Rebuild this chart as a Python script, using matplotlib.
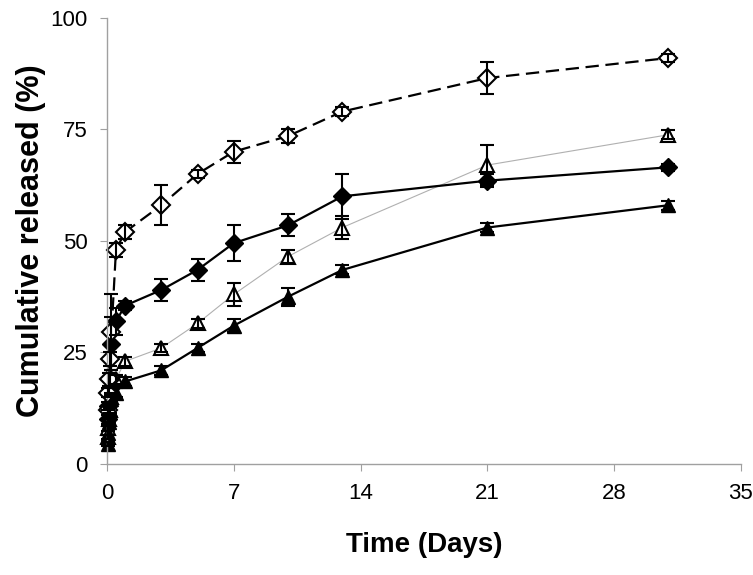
import matplotlib
matplotlib.use('Agg')
import matplotlib.pyplot as plt

plt.rcParams['font.family'] = ['Liberation Sans', 'DejaVu Sans']

# sampling times (days)
days = [0.042, 0.083, 0.125, 0.167, 0.25, 0.5, 1, 3, 5, 7, 10, 13, 21, 31]

# open diamond, dashed
open_dia = [12, 16, 19, 23.5, 29.5, 48, 52, 58, 65, 70, 73.5, 79, 86.5, 91]
open_dia_err = [1, 1, 1.5, 1.5, 8.5, 1.5, 1.5, 4.5, 1, 2.5, 1.5, 1, 3.5, 1]

# filled diamond, solid
fill_dia = [10, 13, 16, 19, 27, 32, 35.5, 39, 43.5, 49.5, 53.5, 60, 63.5, 66.5]
fill_dia_err = [1, 1, 1, 1.5, 6, 3, 1, 2.5, 2.5, 4, 2.5, 5, 1.5, 0.8]

# open triangle, thin grey line
open_tri = [6, 8, 10, 12, 15, 19, 23, 26, 31.5, 38, 46.5, 53, 67, 73.8]
open_tri_err = [0.5, 0.5, 0.5, 1, 1, 1, 1, 1, 1, 2.5, 1.5, 2.5, 4.5, 1]

# filled triangle, solid
fill_tri = [4.5, 7, 9.5, 12, 14.5, 16, 18.5, 21, 26, 31, 37.5, 43.5, 53, 58]
fill_tri_err = [0.5, 0.5, 0.5, 0.5, 1, 1, 1, 1, 1, 1.5, 2, 1, 1, 1]

fig = plt.figure(figsize=(7.53, 5.75), dpi=100)
ax = fig.add_axes([0.142, 0.193, 0.842, 0.776])

series = [
    (open_tri, open_tri_err, dict(color='#b0b0b0', linewidth=0.8, marker='^', markersize=10,
                                  markerfacecolor='white', markeredgecolor='black', markeredgewidth=1.5)),
    (fill_tri, fill_tri_err, dict(color='black', linewidth=1.6, marker='^', markersize=10,
                                  markerfacecolor='black', markeredgecolor='black')),
    (fill_dia, fill_dia_err, dict(color='black', linewidth=1.6, marker='D', markersize=9,
                                  markerfacecolor='black', markeredgecolor='black')),
    (open_dia, open_dia_err, dict(color='black', linewidth=1.6, linestyle=(0, (6, 3)), marker='D',
                                  markersize=9, markerfacecolor='white', markeredgecolor='black',
                                  markeredgewidth=1.5)),
]

for vals, errs, style in series:
    ax.plot(days, vals, clip_on=False, zorder=2, **style)
    ax.errorbar(days, vals, yerr=errs, fmt='none', ecolor='black', elinewidth=1.5,
                capsize=5, capthick=1.5, zorder=3, clip_on=False)

ax.set_xlim(0, 35)
ax.set_ylim(0, 100)
ax.set_xticks([0, 7, 14, 21, 28, 35])
ax.set_yticks([0, 25, 50, 75, 100])
ax.tick_params(labelsize=16, direction='out', length=5, color='#a0a0a0', pad=9)

for s in ['top', 'right']:
    ax.spines[s].set_visible(False)
for s in ['left', 'bottom']:
    ax.spines[s].set_color('#a0a0a0')
    ax.spines[s].set_linewidth(1)

ax.set_xlabel('Time (Days)', fontsize=20, fontweight='bold', labelpad=20)
ax.set_ylabel('Cumulative released (%)', fontsize=22, fontweight='bold', labelpad=3)

plt.savefig('out.png', dpi=100)
